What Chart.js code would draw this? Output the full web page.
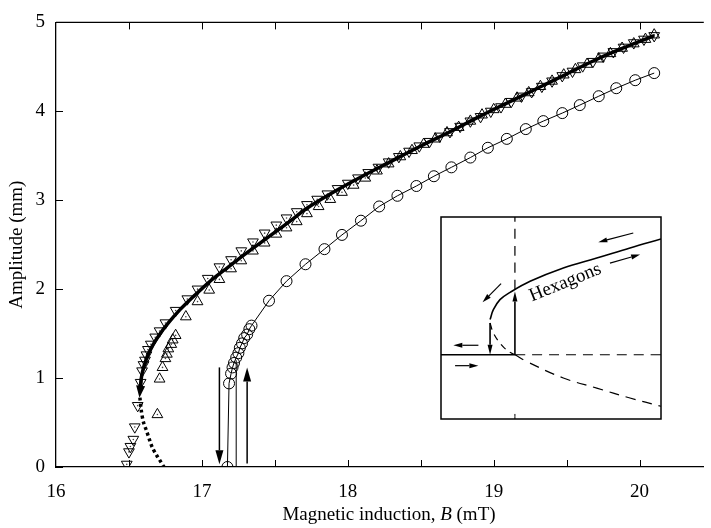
<!DOCTYPE html>
<html><head><meta charset="utf-8">
<script src="https://cdn.jsdelivr.net/npm/chart.js@4"></script>
<style>
html,body{margin:0;padding:0;background:#fff;}
#wrap{position:relative;width:711px;height:528px;overflow:hidden;}
#main{position:absolute;left:0;top:0;}
#inset{position:absolute;left:440px;top:216px;}
</style>
</head><body>
<div id="wrap"><canvas id="main" width="711" height="528"></canvas><canvas id="inset" width="222" height="204"></canvas></div>
<script>
// ---------- main chart data ----------
const xTickVals = [16, 17, 18, 19, 20];
const xMinorTickVals = [16.5, 17, 17.5, 18, 18.5, 19, 19.5, 20];
const yTickVals = [0, 1, 2, 3, 4, 5];

// thick solid curve (model)
const curveX = [16.578,16.59,16.62,16.66,16.71,16.77,16.85,16.95,17.05,17.15,17.30,17.45,17.60,17.72,17.90,18.10,18.30,18.50,18.70,18.90,19.10,19.30,19.50,19.70,19.90,20.10];
const curveY = [0.90,1.05,1.22,1.36,1.49,1.62,1.77,1.93,2.08,2.21,2.40,2.58,2.76,2.91,3.09,3.27,3.44,3.61,3.77,3.94,4.10,4.26,4.42,4.58,4.72,4.85];
// thick dotted (unstable) branch
const dotX = [16.575,16.585,16.60,16.62,16.64,16.66,16.69,16.71,16.74];
const dotY = [0.78,0.63,0.50,0.41,0.31,0.22,0.13,0.08,0.00];

// down-triangles (decreasing B)
const downX = [16.485,16.50,16.51,16.53,16.54,16.56,16.58,16.59,16.60,16.61,16.62,16.63,16.65,16.68,16.71,16.75,16.82,16.90,16.97,17.04,17.12,17.20,17.27,17.35,17.43,17.51,17.58,17.65,17.72,17.79,17.86,17.93,18.00,18.07,18.14,18.21,18.28,18.35,18.42,18.49,18.56,18.63,18.70,18.77,18.84,18.91,18.98,19.05,19.12,19.19,19.26,19.33,19.40,19.47,19.54,19.61,19.68,19.75,19.82,19.89,19.96,20.03,20.10];
const downY = [0.03,0.17,0.23,0.31,0.45,0.69,0.95,1.08,1.15,1.20,1.26,1.32,1.38,1.46,1.53,1.62,1.76,1.89,2.00,2.12,2.25,2.33,2.43,2.53,2.63,2.72,2.80,2.87,2.95,3.01,3.07,3.13,3.19,3.25,3.31,3.37,3.43,3.49,3.55,3.61,3.66,3.72,3.77,3.83,3.89,3.94,4.00,4.05,4.11,4.17,4.22,4.28,4.34,4.40,4.45,4.51,4.56,4.62,4.67,4.72,4.77,4.81,4.85];
// up-triangles (increasing B)
const upX = [16.695,16.71,16.73,16.75,16.76,16.77,16.79,16.80,16.82,16.89,16.97,17.05,17.12,17.20,17.27,17.35,17.43,17.51,17.58,17.65,17.72,17.80,17.88,17.96,18.04,18.12,18.20,18.28,18.36,18.44,18.52,18.60,18.68,18.76,18.84,18.92,19.00,19.08,19.16,19.24,19.32,19.40,19.48,19.56,19.64,19.72,19.80,19.88,19.96,20.04,20.10];
const upY = [0.59,0.99,1.12,1.22,1.27,1.33,1.38,1.43,1.48,1.69,1.86,1.99,2.11,2.23,2.32,2.43,2.52,2.62,2.69,2.76,2.85,2.93,3.01,3.09,3.17,3.25,3.33,3.41,3.49,3.56,3.63,3.69,3.76,3.82,3.89,3.96,4.02,4.08,4.15,4.21,4.28,4.34,4.41,4.47,4.53,4.59,4.65,4.71,4.76,4.81,4.86];
// circles
const circX = [17.175,17.186,17.20,17.21,17.22,17.235,17.25,17.26,17.275,17.29,17.31,17.325,17.34,17.46,17.58,17.71,17.84,17.96,18.09,18.215,18.34,18.47,18.59,18.71,18.84,18.96,19.09,19.22,19.34,19.47,19.59,19.72,19.84,19.97,20.10];
const circY = [0,0.94,1.05,1.12,1.17,1.23,1.28,1.34,1.39,1.45,1.49,1.55,1.59,1.87,2.09,2.28,2.45,2.61,2.77,2.93,3.05,3.16,3.27,3.37,3.48,3.59,3.69,3.80,3.89,3.98,4.07,4.17,4.26,4.35,4.43];
// vertical jump line
const jumpX = [17.235, 17.235];
const jumpY = [0, 1.2];
// arrows [x1,y1,x2,y2] (tail -> tip)
const jumpArrows = [[17.12,1.12,17.12,0.03],[17.31,0.04,17.31,1.12]];
const curveArrowHead = [16.585,1.0,16.572,0.78];

// ---------- inset data (schematic, unit box) ----------
const inUpperU = [0.223,0.238,0.268,0.314,0.405,0.556,0.708,0.859,1.0];
const inUpperV = [0.492,0.541,0.591,0.627,0.682,0.748,0.797,0.847,0.891];
const inVertexU = [0.223,0.238,0.268,0.306,0.336];
const inVertexV = [0.475,0.426,0.376,0.335,0.318];
const inLowerU = [0.336,0.389,0.556,0.708,0.859,1.0];
const inLowerV = [0.318,0.285,0.203,0.153,0.104,0.063];
const inBaseSolidU = [0,0.336], inBaseSolidV = [0.318,0.318];
const inBaseDashU = [0.336,1], inBaseDashV = [0.318,0.318];
const inVertDashU = [0.336,0.336], inVertDashV = [0.64,1.0];
const inTickU = [0.336,0.336], inTickV = [0,0.025];
const inBigArrows = [[0.223,0.475,0.223,0.318],[0.336,0.318,0.336,0.631]];
const inSmallArrows = [[0.170,0.365,0.056,0.365],[0.064,0.264,0.170,0.264],[0.273,0.670,0.189,0.578],[0.874,0.921,0.715,0.875],[0.768,0.772,0.905,0.814]];
const inLabel = 'Hexagons', inLabelU = 0.565, inLabelV = 0.675;

const pts = (xs, ys) => xs.map((x, i) => ({x, y: ys[i]}));
const SERIF = "'Liberation Serif', 'DejaVu Serif', serif";

function drawArrow(ctx, x1, y1, x2, y2, len, wid, lw) {
  const a = Math.atan2(y2 - y1, x2 - x1);
  const bx = x2 - Math.cos(a) * len, by = y2 - Math.sin(a) * len;
  ctx.lineWidth = lw;
  ctx.beginPath(); ctx.moveTo(x1, y1); ctx.lineTo(bx, by); ctx.stroke();
  ctx.beginPath();
  ctx.moveTo(x2, y2);
  ctx.lineTo(bx + Math.sin(a) * wid / 2, by - Math.cos(a) * wid / 2);
  ctx.lineTo(bx - Math.sin(a) * wid / 2, by + Math.cos(a) * wid / 2);
  ctx.closePath(); ctx.fill();
}

const mainDecor = {
  id: 'mainDecor',
  afterDraw(chart) {
    const {ctx, chartArea: a, scales: {x, y}} = chart;
    ctx.save();
    ctx.strokeStyle = '#000'; ctx.fillStyle = '#000';
    ctx.lineWidth = 1.3;
    ctx.beginPath(); ctx.moveTo(a.left, a.top); ctx.lineTo(a.right, a.top); ctx.stroke();
    ctx.lineWidth = 1;
    xMinorTickVals.forEach(v => {
      const p = Math.round(x.getPixelForValue(v)) + 0.5;
      ctx.beginPath(); ctx.moveTo(p, a.bottom); ctx.lineTo(p, a.bottom - 7);
      ctx.moveTo(p, a.top); ctx.lineTo(p, a.top + 7); ctx.stroke();
    });
    yTickVals.forEach(v => {
      const p = Math.round(y.getPixelForValue(v)) + 0.5;
      ctx.beginPath(); ctx.moveTo(a.left, p); ctx.lineTo(a.left + 7, p); ctx.stroke();
    });
    jumpArrows.forEach(r => drawArrow(ctx, x.getPixelForValue(r[0]), y.getPixelForValue(r[1]), x.getPixelForValue(r[2]), y.getPixelForValue(r[3]), 14, 8, 1.5));
    const h = curveArrowHead;
    drawArrow(ctx, x.getPixelForValue(h[0]), y.getPixelForValue(h[1]), x.getPixelForValue(h[2]), y.getPixelForValue(h[3]), 12, 9, 3);
    // axis titles
    ctx.textBaseline = 'alphabetic';
    const t1 = 'Magnetic induction, ', t2 = 'B', t3 = ' (mT)';
    ctx.font = '19px ' + SERIF; const w1 = ctx.measureText(t1).width, w3 = ctx.measureText(t3).width;
    ctx.font = 'italic 19px ' + SERIF; const w2 = ctx.measureText(t2).width;
    let sx = 389 - (w1 + w2 + w3) / 2; const by = 520;
    ctx.textAlign = 'left';
    ctx.font = '19px ' + SERIF; ctx.fillText(t1, sx, by); sx += w1;
    ctx.font = 'italic 19px ' + SERIF; ctx.fillText(t2, sx, by); sx += w2;
    ctx.font = '19px ' + SERIF; ctx.fillText(t3, sx, by);
    ctx.save();
    ctx.translate(22, (a.top + a.bottom) / 2);
    ctx.rotate(-Math.PI / 2);
    ctx.textAlign = 'center';
    ctx.fillText('Amplitude (mm)', 0, 0);
    ctx.restore();
    ctx.restore();
  }
};

const tri = (data, rot) => ({
  data, showLine: false, pointStyle: 'triangle', rotation: rot, pointRadius: 6.2,
  pointBorderWidth: 1, pointBorderColor: '#000', pointBackgroundColor: 'rgba(0,0,0,0)', borderColor: '#000'
});
const dots = data => ({ data, showLine: false, pointRadius: 0.8, pointBorderWidth: 0, pointBackgroundColor: '#444', borderColor: '#444' });

new Chart(document.getElementById('main'), {
  type: 'scatter',
  data: { datasets: [
    { data: pts(curveX, curveY), showLine: true, borderColor: '#000', borderWidth: 3.5, pointRadius: 0, tension: 0.35 },
    { data: pts(dotX, dotY), showLine: true, borderColor: '#000', borderWidth: 3.5, borderDash: [3, 3], pointRadius: 0, tension: 0.3 },
    tri(pts(downX, downY), 180),
    tri(pts(upX, upY), 0),
    dots(pts(downX, downY)),
    dots(pts(upX, upY)),
    { data: pts(circX, circY), showLine: true, borderColor: '#000', borderWidth: 1, pointStyle: 'circle', pointRadius: 5.5,
      pointBorderWidth: 1, pointBorderColor: '#000', pointBackgroundColor: 'rgba(0,0,0,0)', tension: 0 },
    { data: pts(jumpX, jumpY), showLine: true, borderColor: '#000', borderWidth: 1, pointRadius: 0 }
  ]},
  options: {
    responsive: false, animation: false, devicePixelRatio: 1,
    layout: { padding: { top: 11, left: 0, right: 0, bottom: 0 } },
    plugins: { legend: { display: false }, tooltip: { enabled: false } },
    scales: {
      x: { type: 'linear', min: 16, max: 20.44,
        afterFit: s => { s.height = 61; },
        afterBuildTicks: s => { s.ticks = xTickVals.map(v => ({value: v})); },
        grid: { display: false, drawTicks: false },
        border: { display: true, color: '#000', width: 1.3 },
        ticks: { padding: 14, autoSkip: false, maxRotation: 0, color: '#000', font: { family: SERIF, size: 19 } } },
      y: { type: 'linear', min: 0, max: 5,
        afterFit: s => { s.width = 56; },
        afterBuildTicks: s => { s.ticks = yTickVals.map(v => ({value: v})); },
        grid: { display: false, drawTicks: false },
        border: { display: true, color: '#000', width: 1.3 },
        ticks: { padding: 11, color: '#000', font: { family: SERIF, size: 19 } } }
    }
  },
  plugins: [mainDecor]
});

// ---------- inset ----------
const insetDecor = {
  id: 'insetDecor',
  afterDraw(chart) {
    const {ctx, chartArea: a, scales: {x, y}} = chart;
    ctx.save();
    ctx.strokeStyle = '#000'; ctx.fillStyle = '#000';
    ctx.lineWidth = 1.5;
    ctx.strokeRect(a.left, a.top, a.right - a.left, a.bottom - a.top);
    inBigArrows.forEach(r => drawArrow(ctx, x.getPixelForValue(r[0]), y.getPixelForValue(r[1]), x.getPixelForValue(r[2]), y.getPixelForValue(r[3]), 10, 5, 1.6));
    inSmallArrows.forEach(r => drawArrow(ctx, x.getPixelForValue(r[0]), y.getPixelForValue(r[1]), x.getPixelForValue(r[2]), y.getPixelForValue(r[3]), 9, 5, 1.2));
    ctx.translate(x.getPixelForValue(inLabelU), y.getPixelForValue(inLabelV));
    ctx.rotate(-22 * Math.PI / 180);
    ctx.font = '19px ' + SERIF; ctx.textAlign = 'center'; ctx.textBaseline = 'middle';
    ctx.fillText(inLabel, 0, 0);
    ctx.restore();
  }
};
const seg = (xs, ys, dash, w) => ({ data: pts(xs, ys), showLine: true, borderColor: '#000', borderWidth: w, borderDash: dash, pointRadius: 0, tension: 0.4 });
new Chart(document.getElementById('inset'), {
  type: 'scatter',
  data: { datasets: [
    seg(inUpperU, inUpperV, [], 1.6),
    seg(inVertexU, inVertexV, [7, 5], 1.2),
    seg(inLowerU, inLowerV, [10, 7], 1.2),
    seg(inBaseSolidU, inBaseSolidV, [], 1.3),
    seg(inBaseDashU, inBaseDashV, [10, 7], 1.2),
    seg(inVertDashU, inVertDashV, [10, 7], 1.2),
    seg(inTickU, inTickV, [], 1)
  ]},
  options: {
    responsive: false, animation: false, devicePixelRatio: 1,
    layout: { padding: 1 },
    plugins: { legend: { display: false }, tooltip: { enabled: false } },
    scales: { x: { display: false, min: 0, max: 1 }, y: { display: false, min: 0, max: 1 } }
  },
  plugins: [insetDecor]
});
</script>
</body></html>
